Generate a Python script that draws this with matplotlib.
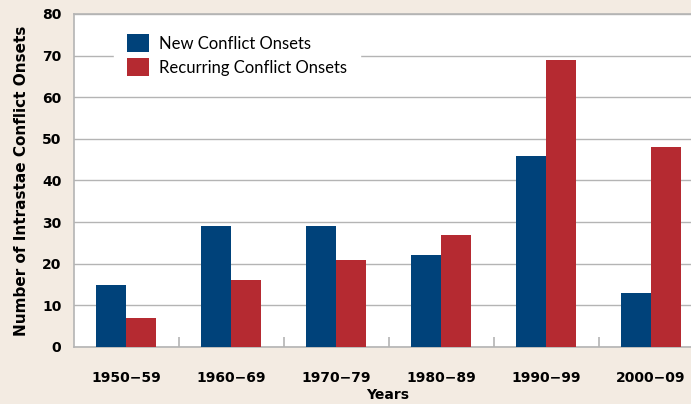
import matplotlib.pyplot as plt
import numpy as np

decades = ['1950\u221259', '1960\u221269', '1970\u221279', '1980\u221289', '1990\u221299', '2000\u221209']
new_onsets = [15, 29, 29, 22, 46, 13]
recurring_onsets = [7, 16, 21, 27, 69, 48]
yticks = [0, 10, 20, 30, 40, 50, 60, 70, 80]

bg = '#f3ebe2'
blue = '#00427a'
red = '#b52a31'
grid_c = '#b4b4b4'

plt.rcParams['font.family'] = ['DejaVu Sans']

fig = plt.figure(figsize=(6.91, 4.04), dpi=100, facecolor=bg)
ax = fig.add_axes([74 / 691, 1 - 347 / 404, 617 / 691, 333 / 404])
ax.set_facecolor('white')

x = np.arange(len(decades))
width = 0.286
ax.bar(x - width / 2, new_onsets, width=width, color=blue, label='New Conflict Onsets', zorder=3)
ax.bar(x + width / 2, recurring_onsets, width=width, color=red, label='Recurring Conflict Onsets', zorder=3)

# group size 105px -> right edge cropped at image border
ax.set_xlim(-0.5, 5 + 40 / 105)
ax.set_ylim(0, 80)

ax.set_yticks(yticks)
ax.set_yticklabels([str(v) for v in yticks], fontsize=10, fontweight='bold')
ax.set_xticks(x)
ax.set_xticklabels(decades, fontsize=10, fontweight='bold')
ax.set_xticks(np.arange(0.5, 5, 1), minor=True)
ax.tick_params(axis='x', which='major', length=0, pad=17)
ax.tick_params(axis='x', which='minor', direction='in', length=7, color=grid_c, width=1.2)
ax.tick_params(axis='y', length=0, pad=9)

ax.grid(axis='y', color=grid_c, linewidth=1, zorder=0)
for s in ['left', 'bottom', 'top']:
    ax.spines[s].set_color(grid_c)
    ax.spines[s].set_linewidth(1.2)
ax.spines['right'].set_visible(False)

ax.set_ylabel('Number of Intrastae Conflict Onsets', fontsize=11, fontweight='bold', va='center')
ax.yaxis.set_label_coords(-(74 - 22) / 617, 0.5)
fig.text(388 / 691, 1 - 395 / 404, 'Years', ha='center', va='center', fontsize=10, fontweight='bold')

leg = ax.legend(loc='upper left', bbox_to_anchor=(33 / 617, 1.0), frameon=True, fancybox=False,
                facecolor='white', edgecolor='white', framealpha=1,
                prop={'family': 'Lato', 'size': 12}, handlelength=1.3, handleheight=1.3,
                handletextpad=0.6, labelspacing=0.35, borderpad=0.8, borderaxespad=0.4)
leg.set_zorder(5)

fig.savefig('out.png', dpi=100, facecolor=bg)
